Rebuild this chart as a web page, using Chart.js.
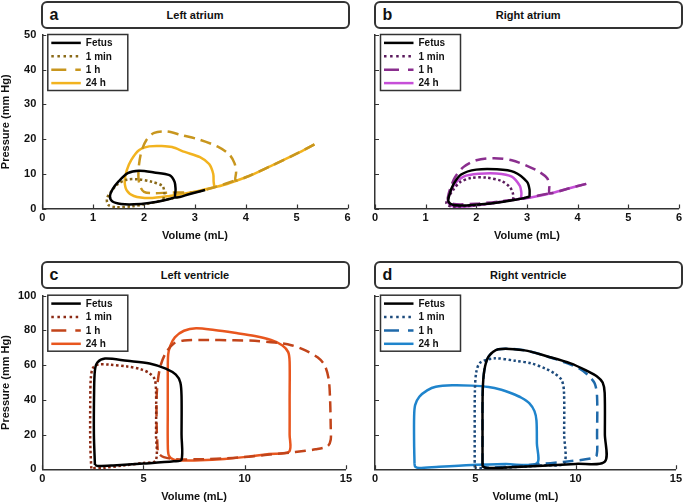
<!DOCTYPE html>
<html>
<head>
<meta charset="utf-8">
<script src="https://cdn.jsdelivr.net/npm/chart.js@4.4.1/dist/chart.umd.min.js"></script>
<style>
  body { margin: 0; background: #fff; width: 685px; height: 503px; position: relative; overflow: hidden;
         font-family: "Liberation Sans", Arial, Helvetica, sans-serif; color: #111; }
  canvas { position: absolute; }
  .box { position: absolute; box-sizing: border-box; height: 28px; border: 2px solid #333; border-radius: 6px; }
  .box .lt { position: absolute; left: 7px; top: 2px; font-size: 16px; font-weight: bold; line-height: 20px; }
  .box .tt { position: absolute; left: 0; right: 0; top: 5px; text-align: center; font-size: 11px; font-weight: bold; line-height: 14px; }
</style>
</head>
<body>
<div class="box" style="left:40.5px;top:1px;width:309px"><span class="lt">a</span><span class="tt">Left atrium</span></div>
<div class="box" style="left:373.5px;top:1px;width:309.5px"><span class="lt">b</span><span class="tt">Right atrium</span></div>
<div class="box" style="left:40.5px;top:261px;width:309px"><span class="lt">c</span><span class="tt">Left ventricle</span></div>
<div class="box" style="left:373.5px;top:261px;width:309.5px"><span class="lt">d</span><span class="tt">Right ventricle</span></div>

<canvas id="ca" width="355" height="250" style="left:0;top:0"></canvas>
<canvas id="cb" width="340" height="250" style="left:345px;top:0"></canvas>
<canvas id="cc" width="355" height="253" style="left:0;top:250px"></canvas>
<canvas id="cd" width="340" height="253" style="left:345px;top:250px"></canvas>

<script>
const FONT = '"Liberation Sans", Arial, Helvetica, sans-serif';
const labels = ["Fetus", "1 min", "1 h", "24 h"];

// left atrium (volume mL, pressure mm Hg)
const laFetusV = [3.2, 2.9, 2.62, 2.62, 2.6, 2.5, 2.2, 1.9, 1.68, 1.5, 1.38, 1.33, 1.38, 1.55, 1.8, 2.1, 2.4, 2.62];
const laFetusP = [5.35, 4.2, 3.2, 5.5, 7.7, 9.6, 10.4, 10.9, 10.2, 7.8, 5.5, 3.5, 2.0, 1.3, 1.2, 1.6, 2.4, 3.2];
const la1minV = [2.38, 2.4, 2.36, 2.15, 1.9, 1.66, 1.48, 1.35, 1.27, 1.3, 1.45, 1.75, 2.05, 2.38, 2.7];
const la1minP = [2.6, 4.5, 6.5, 7.7, 8.4, 8.3, 7.0, 4.8, 2.8, 1.0, 0.4, 0.6, 1.3, 2.4, 3.4];
const la1hV = [5.35, 5.0, 4.5, 4.0, 3.8, 3.81, 3.78, 3.68, 3.45, 3.1, 2.75, 2.45, 2.2, 2.05, 1.95, 1.9, 1.89, 1.92, 2.0, 2.2, 2.5, 2.85, 3.1, 3.4, 3.8];
const la1hP = [18.5, 15.8, 12.3, 9.0, 8.1, 10.5, 13.0, 15.5, 17.8, 19.8, 21.1, 22.2, 21.8, 19.8, 16.5, 12.5, 9.0, 6.5, 4.8, 4.4, 4.6, 4.6, 5.0, 6.2, 8.1];
const la24hV = [5.35, 5.0, 4.5, 4.0, 3.4, 3.37, 3.36, 3.28, 3.1, 2.8, 2.55, 2.35, 2.1, 1.9, 1.75, 1.66, 1.62, 1.66, 1.8, 2.1, 2.5, 3.0, 3.4];
const la24hP = [18.5, 15.8, 12.3, 9.0, 6.2, 7.5, 10.0, 12.8, 14.8, 16.3, 17.7, 18.0, 17.9, 16.8, 14.0, 11.0, 8.0, 5.2, 3.6, 3.0, 3.6, 4.8, 6.2];

// right atrium
const raFetusV = [3.05, 3.05, 3.0, 2.75, 2.4, 2.0, 1.7, 1.55, 1.47, 1.45, 1.55, 1.8, 2.1, 2.5, 2.8, 3.05];
const raFetusP = [3.4, 5.5, 7.7, 10.5, 11.3, 11.2, 9.8, 7.0, 4.0, 2.0, 1.0, 0.9, 1.2, 1.9, 2.6, 3.4];
const ra1minV = [2.73, 2.72, 2.66, 2.5, 2.2, 1.9, 1.68, 1.55, 1.45, 1.41, 1.5, 1.8, 2.2, 2.73, 3.0];
const ra1minP = [2.5, 4.5, 6.2, 7.9, 8.9, 8.8, 7.6, 5.5, 3.2, 1.5, 0.6, 0.7, 1.3, 2.5, 3.1];
const ra1hV = [4.17, 3.8, 3.45, 3.44, 3.4, 3.25, 3.0, 2.7, 2.35, 2.0, 1.75, 1.58, 1.48, 1.44, 1.55, 2.0, 2.5, 3.0, 3.45];
const ra1hP = [7.1, 5.7, 4.4, 6.5, 8.7, 10.5, 12.3, 13.9, 14.5, 13.9, 12.0, 9.0, 5.5, 2.5, 1.3, 1.4, 2.1, 3.1, 4.4];
const ra24hV = [4.17, 3.8, 3.45, 2.9, 2.89, 2.86, 2.7, 2.4, 2.05, 1.75, 1.57, 1.47, 1.44, 1.55, 1.8, 2.2, 2.6, 2.9];
const ra24hP = [7.1, 5.7, 4.3, 2.9, 4.5, 6.5, 9.2, 10.1, 10.0, 9.2, 7.0, 4.0, 1.8, 0.6, 0.6, 1.3, 2.2, 2.9];

// left ventricle
const lvFetusV = [2.6, 2.55, 2.56, 2.6, 2.72, 3.1, 4.2, 5.3, 6.1, 6.6, 6.82, 6.88, 6.88, 6.88, 6.5, 5.0, 3.5, 2.75, 2.6];
const lvFetusP = [2.5, 20, 45, 57, 61.5, 63.8, 62.5, 61, 58, 54.5, 50, 42, 20, 5.5, 4.6, 3.3, 2.2, 1.9, 2.5];
const lv1minV = [2.42, 2.37, 2.37, 2.4, 2.5, 2.75, 3.3, 4.2, 4.85, 5.3, 5.55, 5.62, 5.62, 5.6, 5.0, 4.0, 3.0, 2.42];
const lv1minP = [0.5, 15, 40, 53, 58.3, 60.3, 60.3, 59.2, 57.7, 55.3, 52, 45, 20, 5, 3.7, 2.2, 0.8, 0.5];
const lv1hV = [5.7, 5.65, 5.65, 5.72, 5.85, 6.1, 6.5, 7.0, 8.0, 9.5, 10.5, 11.5, 12.3, 13.0, 13.6, 13.95, 14.15, 14.22, 14.25, 14.25, 14.1, 13.5, 12.5, 11.0, 9.4, 7.8, 6.6, 6.0, 5.75, 5.7];
const lv1hP = [11, 25, 42, 52, 60, 67, 72.5, 74.2, 74.5, 74.3, 74, 73, 71.5, 68.5, 64.5, 60, 52, 40, 25, 17, 13.3, 11.5, 10, 8.2, 6.5, 5.8, 5.8, 7.0, 9, 11];
const lv24hV = [6.2, 6.22, 6.32, 6.55, 7.0, 7.6, 8.5, 9.5, 10.5, 11.3, 11.85, 12.15, 12.22, 12.22, 12.22, 12.2, 11.2, 10.2, 9.0, 7.8, 7.0, 6.5, 6.25, 6.2, 6.2, 6.2];
const lv24hP = [57, 66, 71, 76, 79.8, 81.2, 80.2, 78.6, 76.8, 74.5, 71.5, 67.5, 62, 40, 20, 10.2, 8.8, 7.3, 6.0, 5.2, 5.1, 5.6, 8, 15, 35, 57];

// right ventricle
const rvFetusV = [5.36, 5.36, 5.37, 5.45, 5.66, 6.15, 7.46, 8.6, 9.75, 10.6, 11.07, 11.35, 11.45, 11.46, 11.46, 10.0, 8.12, 6.5, 5.6, 5.38, 5.36];
const rvFetusP = [3.4, 20, 45, 57, 64.9, 69.2, 68.5, 65, 61, 56.5, 53.5, 50, 44, 20, 4.4, 3.1, 1.9, 1.0, 0.8, 1.6, 3.4];
const rv1minV = [4.97, 4.97, 4.98, 5.05, 5.25, 5.98, 7.0, 7.79, 8.5, 8.94, 9.3, 9.42, 9.43, 9.43, 8.5, 7.0, 5.5, 4.97];
const rv1minP = [1.0, 20, 45, 56, 61.5, 63.9, 62.5, 61, 58, 55.3, 51.5, 45, 20, 3.4, 2.4, 1.3, 0.5, 1.0];
const rv1hV = [5.36, 5.36, 5.37, 5.45, 5.66, 6.15, 7.46, 8.6, 9.6, 10.2, 10.6, 10.95, 11.07, 11.07, 11.05, 10.8, 9.5, 8.0, 6.5, 5.6, 5.38, 5.36];
const rv1hP = [3, 20, 45, 57, 64.9, 69.2, 68.5, 65, 61, 58, 54.5, 49.5, 42, 20, 8, 6.3, 4.4, 2.8, 1.5, 1.0, 1.8, 3];
const rv24hV = [1.97, 1.95, 1.95, 2.0, 2.21, 2.6, 3.03, 3.85, 4.8, 5.66, 6.3, 6.8, 7.3, 7.7, 7.95, 8.05, 8.07, 8.07, 6.5, 4.84, 3.2, 2.2, 2.0, 1.97];
const rv24hP = [3.4, 15, 30, 37, 41.8, 45.5, 47.6, 48.4, 48.2, 47.4, 45.8, 43.8, 41.2, 38, 33.5, 28, 15, 3.4, 3.0, 2.5, 1.5, 0.7, 1.5, 3.4];

// colours per panel: fetus, 1 min, 1 h, 24 h
const laColors = ["#000000", "#8a6a18", "#c8961e", "#f2b31f"];
const raColors = ["#000000", "#5a1a5c", "#8a2e8e", "#c64fd8"];
const lvColors = ["#000000", "#8b2a14", "#c2441a", "#e8561e"];
const rvColors = ["#000000", "#1c4a7c", "#1f6aaa", "#1f84cc"];

const plotDash = [[], [2.5, 2.5], [11, 6], []];
const legendDash = [[], [2.5, 3.6], [15, 9], []];

function pts(v, p) { return v.map((x, i) => ({ x: x, y: p[i] })); }

function sets(series, colors) {
  return series.map((s, i) => ({
    label: labels[i],
    data: pts(s[0], s[1]),
    showLine: true,
    borderColor: colors[i],
    backgroundColor: colors[i],
    borderWidth: 2.5,
    borderDash: plotDash[i],
    legendDash: legendDash[i],
    pointRadius: 0,
    tension: 0.3,
    fill: false,
  }));
}

// ticks pointing into the plot, as in the original
const inTicks = {
  id: "inTicks",
  afterDraw(chart) {
    const { ctx, chartArea: a, scales: { x, y } } = chart;
    ctx.save();
    ctx.strokeStyle = "#333";
    ctx.lineWidth = 1.2;
    ctx.beginPath();
    x.ticks.forEach(t => {
      const px = Math.round(x.getPixelForValue(t.value)) + 0.5;
      ctx.moveTo(px, a.bottom); ctx.lineTo(px, a.bottom - 4);
    });
    y.ticks.forEach(t => {
      const py = Math.round(y.getPixelForValue(t.value)) + 0.5;
      ctx.moveTo(a.left, py); ctx.lineTo(a.left + 4, py);
    });
    ctx.stroke();
    ctx.restore();
  }
};

// boxed legend in the top-left corner of the plot
const boxLegend = {
  id: "boxLegend",
  afterDraw(chart) {
    const { ctx, chartArea: a } = chart;
    const L = a.left + 5.5, T = a.top - 0.5, W = 80, H = 56;
    ctx.save();
    ctx.fillStyle = "#fff";
    ctx.fillRect(L, T, W, H);
    ctx.strokeStyle = "#333";
    ctx.lineWidth = 1.5;
    ctx.strokeRect(L, T, W, H);
    chart.data.datasets.forEach((d, i) => {
      const yy = T + 8.4 + i * 13.4;
      ctx.strokeStyle = d.borderColor;
      ctx.lineWidth = 2.5;
      ctx.setLineDash(d.legendDash);
      ctx.beginPath();
      ctx.moveTo(L + 3.5, yy); ctx.lineTo(L + 33, yy);
      ctx.stroke();
      ctx.setLineDash([]);
      ctx.fillStyle = "#111";
      ctx.font = "bold 10px " + FONT;
      ctx.textBaseline = "middle";
      ctx.fillText(d.label, L + 38, yy + 0.5);
    });
    ctx.restore();
  }
};

function makeChart(id, datasets, o) {
  const tickFont = { family: FONT, size: 11, weight: "bold" };
  const titleFont = { family: FONT, size: 11, weight: "bold", lineHeight: 1 };
  return new Chart(document.getElementById(id), {
    type: "scatter",
    data: { datasets: datasets },
    options: {
      responsive: false,
      animation: false,
      events: [],
      layout: { padding: { left: 0, top: o.top, right: o.right, bottom: o.bottom } },
      plugins: { legend: { display: false }, tooltip: { enabled: false } },
      scales: {
        x: {
          type: "linear", min: 0, max: o.xmax,
          grid: { display: false, drawTicks: false },
          border: { display: true, color: "#333", width: 1.5 },
          ticks: { stepSize: o.xstep, color: "#111", font: tickFont, padding: 3, maxRotation: 0 },
          title: { display: true, text: "Volume (mL)", color: "#111", font: titleFont, padding: 0 },
          afterFit(s) { s.height = 33; },
        },
        y: {
          type: "linear", min: 0, max: o.ymax,
          grid: { display: false, drawTicks: false },
          border: { display: true, color: "#333", width: 1.5 },
          ticks: { stepSize: o.ystep, display: o.yLabels, color: "#111", font: tickFont, padding: 6 },
          title: { display: o.yLabels, text: "Pressure (mm Hg)", color: "#111", font: titleFont, padding: 0 },
          afterFit(s) { s.width = o.yWidth; },
        },
      },
    },
    plugins: [inTicks, boxLegend],
  });
}

makeChart("ca", sets([[laFetusV, laFetusP], [la1minV, la1minP], [la1hV, la1hP], [la24hV, la24hP]], laColors),
  { top: 35, right: 7.5, bottom: 8.5, xmax: 6, xstep: 1, ymax: 50, ystep: 10, yLabels: true, yWidth: 42.3 });
makeChart("cb", sets([[raFetusV, raFetusP], [ra1minV, ra1minP], [ra1hV, ra1hP], [ra24hV, ra24hP]], raColors),
  { top: 35, right: 6, bottom: 8.5, xmax: 6, xstep: 1, ymax: 50, ystep: 10, yLabels: false, yWidth: 30 });
makeChart("cc", sets([[lvFetusV, lvFetusP], [lv1minV, lv1minP], [lv1hV, lv1hP], [lv24hV, lv24hP]], lvColors),
  { top: 45.7, right: 7, bottom: 0.7, xmax: 15, xstep: 5, ymax: 100, ystep: 20, yLabels: true, yWidth: 42.3 });
makeChart("cd", sets([[rvFetusV, rvFetusP], [rv1minV, rv1minP], [rv1hV, rv1hP], [rv24hV, rv24hP]], rvColors),
  { top: 45.7, right: 5, bottom: 0.7, xmax: 15, xstep: 5, ymax: 100, ystep: 20, yLabels: false, yWidth: 30 });
</script>
</body>
</html>
